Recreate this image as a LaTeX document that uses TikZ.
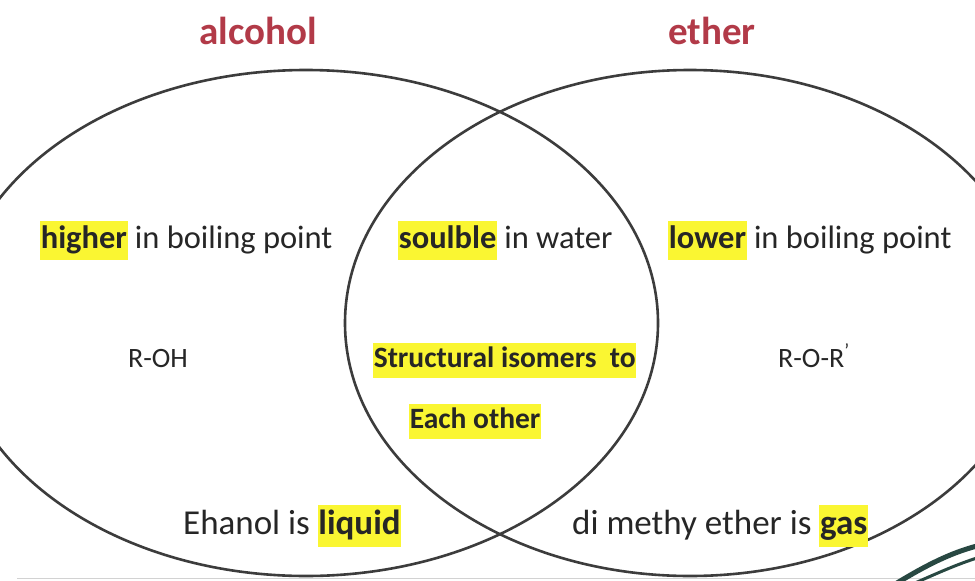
\documentclass[tikz,border=0pt]{standalone}
\usepackage{fontspec}
\setmainfont{Carlito}
\usetikzlibrary{positioning,calc}
\definecolor{titlered}{RGB}{178,58,72}
\definecolor{hlyellow}{RGB}{250,246,50}
\definecolor{inkgray}{RGB}{38,38,38}
\definecolor{darkteal}{RGB}{40,72,66}
\newcommand{\hlite}[1]{{\setlength{\fboxsep}{0.6pt}\colorbox{hlyellow}{\strut #1}}}

\begin{document}
\begin{tikzpicture}[x=1pt, y=-1pt, node distance=20pt,
  title/.style={font=\fontsize{39}{44}\selectfont\bfseries, text=titlered, inner sep=0pt},
  fact/.style={font=\fontsize{32.5}{38}\selectfont, text=inkgray, inner sep=0pt},
  lowfact/.style={fact, font=\fontsize{35}{40}\selectfont},
  formula/.style={font=\fontsize{28}{32}\selectfont, text=inkgray, inner sep=0pt},
  shared/.style={font=\fontsize{29.5}{34}\selectfont\bfseries, text=inkgray, inner sep=0pt},
  vennline/.style={draw=inkgray!90!white, line width=2.6pt}]
  \useasboundingbox[fill=white] (0,0) rectangle (975,581);

  % the two sets
  \draw[vennline] (306,323) ellipse [x radius=352, y radius=253];
  \draw[vennline] (690,323) ellipse [x radius=345, y radius=253];

  % edge of the page and the cut-off shape in the corner
  \draw[gray!35, line width=1pt] (17,578) -- (975,578);
  \draw[darkteal, line width=5pt] (897,583) .. controls (925,566) and (950,553) .. (977,546);
  \draw[darkteal, line width=3pt] (915,583) .. controls (940,572) and (958,564) .. (977,558);

  \node[title, anchor=base] (alc) at (258,44) {alcohol};
  \node[title, anchor=base] (eth) at (712,44) {ether};

  \node[fact, anchor=base west] (hi) at (40,248) {\hlite{\textbf{higher}} in boiling point};
  \node[fact, anchor=base west] (sol) at (398,248) {\hlite{\textbf{soulble}} in water};
  \node[fact, anchor=base west] (lo) at (668,248) {\hlite{\textbf{lower}} in boiling point};

  \node[formula, anchor=base] (roh) at (158,367) {R-OH};
  \node[shared, anchor=base west] (iso) at (373,367) {\hlite{Structural isomers\ \ to}};
  \node[shared, anchor=base west] (each) at ($(iso.base west)+(36,61)$) {\hlite{Each other}};
  \node[formula, anchor=base west] (ror) at (778,367) {R-O-R\textsuperscript{'}};

  \node[lowfact, anchor=base west] (liq) at (183,534) {Ehanol is \hlite{\textbf{liquid}}};
  \node[lowfact, anchor=base west] (gas) at (572,534) {di methy ether is \hlite{\textbf{gas}}};
\end{tikzpicture}
\end{document}
